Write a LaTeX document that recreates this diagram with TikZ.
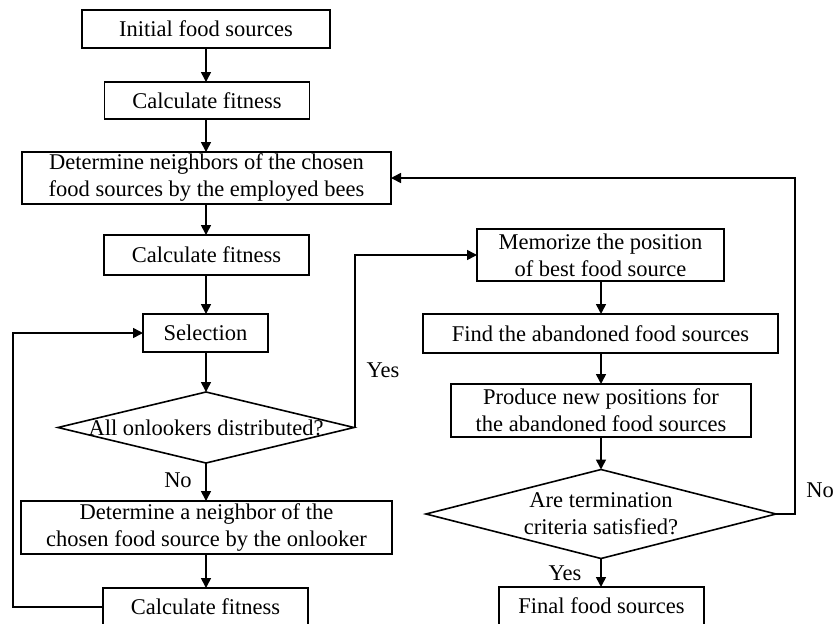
\documentclass[tikz,border=0pt]{standalone}
\usepackage{fontspec}
\setmainfont{Liberation Serif}
\usetikzlibrary{shapes.geometric,arrows.meta}
\begin{document}
\begin{tikzpicture}[x=1pt,y=-1pt,
  every node/.style={font=\fontsize{22.5}{27}\selectfont},
  box/.style={draw,line width=1.6pt,rectangle,inner sep=0pt,outer sep=0pt,align=center},
  dia/.style={draw,line width=1.6pt,diamond,inner sep=0pt,outer sep=0pt},
  lbl/.style={inner sep=0pt},
  conn/.style={line width=1.6pt,-{Triangle[length=10pt,width=10pt]}},
  seg/.style={line width=1.6pt}]
\useasboundingbox (0,0) rectangle (836,624);
\clip (0,0) rectangle (836,624);
% left column
\node[box,minimum width=248pt,minimum height=38pt] (b1) at (206,29) {Initial food sources};
\node[box,minimum width=205pt,minimum height=37pt] (b2) at (207,100.5) {Calculate fitness};
\node[box,minimum width=369pt,minimum height=52pt] (b3) at (206.5,178) {Determine neighbors of the chosen\\food sources by the employed bees};
\node[box,minimum width=205pt,minimum height=40pt] (b4) at (206.5,255) {Calculate fitness};
\node[box,minimum width=125pt,minimum height=38pt] (b5) at (205.5,333) {Selection};
\node[dia,minimum width=296pt,minimum height=71pt] (d1) at (206,427.5) {};
\node[lbl] (d1t) at (206,427.5) {All onlookers distributed?};
\node[box,minimum width=371pt,minimum height=53pt] (b6) at (206.5,527.5) {Determine a neighbor of the\\chosen food source by the onlooker};
\node[box,minimum width=205pt,minimum height=38pt] (b7) at (205.5,607) {Calculate fitness};
% right column
\node[box,minimum width=247pt,minimum height=52pt] (m) at (600.5,255) {Memorize the position\\of best food source};
\node[box,minimum width=355pt,minimum height=39pt] (f) at (600.5,333.5) {Find the abandoned food sources};
\node[box,minimum width=300pt,minimum height=53pt] (p) at (601,410.5) {Produce new positions for\\the abandoned food sources};
\node[dia,minimum width=350pt,minimum height=89pt] (d2) at (601,514) {};
\node[lbl,align=center] (d2t) at (601,514) {Are termination\\criteria satisfied?};
\node[box,minimum width=205pt,minimum height=38pt] (fin) at (601.5,606) {Final food sources};
% labels
\node[lbl] (yes1) at (383,370) {Yes};
\node[lbl] (no1) at (178,480) {No};
\node[lbl] (yes2) at (565,573) {Yes};
\node[lbl] (no2) at (820,490) {No};
% coordinates
\coordinate (cy) at (355,255);
\coordinate (cl1) at (13,607);
\coordinate (cl2) at (13,333);
\coordinate (cn1) at (795,514);
\coordinate (cn2) at (795,178);
% connectors
\draw[conn] (b1.south -| 206,0) -- (b2.north -| 206,0);
\draw[conn] (b2.south -| 206,0) -- (b3.north -| 206,0);
\draw[conn] (b3.south -| 206,0) -- (b4.north -| 206,0);
\draw[conn] (b4.south -| 206,0) -- (b5.north -| 206,0);
\draw[conn] (b5.south -| 206,0) -- (d1.north);
\draw[conn] (d1.south) -- (b6.north -| 206,0);
\draw[conn] (b6.south -| 206,0) -- (b7.north -| 206,0);
\draw[conn] (b7.west) -- (cl1) -- (cl2) -- (b5.west);
\draw[conn] (d1.east) -- (cy |- d1.east) -- (cy) -- (m.west);
\draw[conn] (m.south -| 601,0) -- (f.north -| 601,0);
\draw[conn] (f.south -| 601,0) -- (p.north -| 601,0);
\draw[conn] (p.south -| 601,0) -- (d2.north);
\draw[conn] (d2.south) -- (fin.north -| 601,0);
\draw[conn] (d2.east) -- (cn1) -- (cn2) -- (b3.east);
\end{tikzpicture}
\end{document}
